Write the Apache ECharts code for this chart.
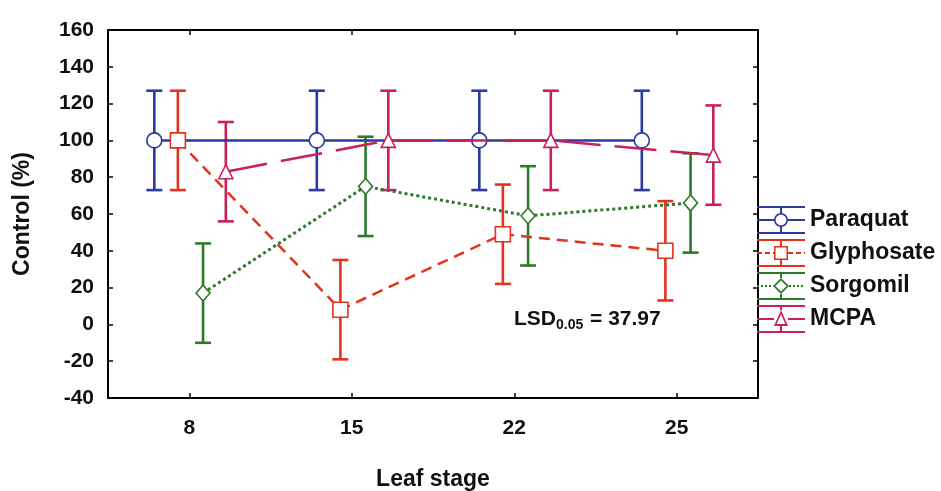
<!DOCTYPE html>
<html>
<head>
<meta charset="utf-8">
<script src="https://cdn.jsdelivr.net/npm/echarts@6/dist/echarts.min.js"></script>
<style>
html,body{margin:0;padding:0;background:#fff;}
#chart{width:941px;height:491px;}
</style>
</head>
<body>
<div id="chart"></div>
<script>
// ---- Data ----
const categories = ['8', '15', '22', '25'];
const seriesNames = ['Paraquat', 'Glyphosate', 'Sorgomil', 'MCPA'];
const paraquat = [100, 100, 100, 100];
const glyphosate = [100, 8, 49, 40];
const sorgomil = [17, 75, 59, 66];
const mcpa = [83, 100, 100, 92];
const paraquatErr = [27, 27, 27, 27];
const glyphosateErr = [27, 27, 27, 27];
const sorgomilErr = [27, 27, 27, 27];
const mcpaErr = [27, 27, 27, 27];
const yTicks = { min: -40, max: 160, interval: 20 };
const lsdLabel = { main: 'LSD', sub: '0.05', rest: ' = 37.97' };

// ---- Styling ----
const FONT = 'Liberation Sans';
const TXT = '#111';
const colors = ['#2a3aa2', '#e2331f', '#2e7a2b', '#c8215b'];
const symbols = ['circle', 'rect', 'diamond', 'triangle'];
const symbolSizes = [15, 15, [14, 16], [14, 14]];
const lineTypes = ['solid', [11, 7], [3, 3], [42, 14]];
const lineWidths = [2.5, 2.5, 3, 2.5];
const offsets = [-0.215, -0.07, 0.085, 0.225];
const values = [paraquat, glyphosate, sorgomil, mcpa];
const errors = [paraquatErr, glyphosateErr, sorgomilErr, mcpaErr];

// ---- Legend icons (error-bar style with hollow marker) ----
function rect(x0, y0, x1, y1) {
  return `M${x0},${y0}L${x1},${y0}L${x1},${y1}L${x0},${y1}Z`;
}
function poly(pts) {
  return 'M' + pts.map(p => p[0].toFixed(2) + ',' + p[1].toFixed(2)).join('L') + 'Z';
}
function ring(pts, c, k) {
  const inner = pts.map(p => [c[0] + (p[0] - c[0]) * k, c[1] + (p[1] - c[1]) * k]).reverse();
  return poly(pts) + poly(inner);
}
function segs(x0, x1, dash) {
  if (!dash) return rect(x0, 13, x1, 15);
  let s = '', x = x0;
  while (x < x1) { s += rect(x, 13, Math.min(x + dash[0], x1), 15); x += dash[0] + dash[1]; }
  return s;
}
function makeIcon(kind, dash) {
  const cx = 24, cy = 14;
  let pts, c = [cx, cy], k, top, bot, lx, rx;
  if (kind === 'circle') {
    pts = []; for (let i = 0; i < 24; i++) { const a = i / 24 * Math.PI * 2; pts.push([cx + 7 * Math.cos(a), cy + 7 * Math.sin(a)]); }
    k = 0.76; top = 7; bot = 7; lx = 7; rx = 7;
  } else if (kind === 'rect') {
    pts = [[17, 7], [31, 7], [31, 21], [17, 21]]; k = 0.78; top = 7; bot = 7; lx = 7; rx = 7;
  } else if (kind === 'diamond') {
    pts = [[24, 6], [32, 14], [24, 22], [16, 14]]; k = 0.7; top = 8; bot = 8; lx = 8; rx = 8;
  } else {
    pts = [[24, 5], [31, 21], [17, 21]]; c = [24, 16]; k = 0.62; top = 9; bot = 7; lx = 7; rx = 7;
  }
  let d = rect(0, 0, 48, 2) + rect(0, 26, 48, 28) + rect(23, 2, 25, cy - top) + rect(23, cy + bot, 25, 26);
  d += segs(0, cx - lx, dash) + segs(cx + rx, 48, dash);
  d += ring(pts, c, k);
  return 'path://' + d;
}
const legendDashes = [null, [5, 3], [2, 2], null];

// ---- Series ----
const series = [];
values.forEach((vals, s) => {
  series.push({
    type: 'custom',
    name: seriesNames[s] + ' error',
    xAxisIndex: 1,
    yAxisIndex: 0,
    z: 2,
    silent: true,
    data: vals.map((v, i) => [i + offsets[s], v, v - errors[s][i], v + errors[s][i]]),
    renderItem: function (params, api) {
      const x = api.value(0);
      const lo = api.coord([x, api.value(2)]);
      const hi = api.coord([x, api.value(3)]);
      const w = 8;
      const st = { stroke: colors[s], lineWidth: 2.6 };
      return {
        type: 'group',
        children: [
          { type: 'line', shape: { x1: lo[0], y1: lo[1], x2: hi[0], y2: hi[1] }, style: st },
          { type: 'line', shape: { x1: lo[0] - w, y1: lo[1], x2: lo[0] + w, y2: lo[1] }, style: st },
          { type: 'line', shape: { x1: hi[0] - w, y1: hi[1], x2: hi[0] + w, y2: hi[1] }, style: st }
        ]
      };
    }
  });
  series.push({
    type: 'line',
    name: seriesNames[s],
    xAxisIndex: 1,
    yAxisIndex: 0,
    z: 3 + s,
    smooth: false,
    symbol: symbols[s],
    symbolSize: symbolSizes[s],
    showAllSymbol: true,
    data: vals.map((v, i) => [i + offsets[s], v]),
    itemStyle: { color: '#ffffff', borderColor: colors[s], borderWidth: 1.6 },
    lineStyle: { color: colors[s], width: lineWidths[s], type: lineTypes[s] },
    emphasis: { disabled: true }
  });
});

const chart = echarts.init(document.getElementById('chart'), null, { renderer: 'canvas' });
const axisLine = { show: true, onZero: false, lineStyle: { color: '#000', width: 2 } };
const tick = { show: true, inside: true, length: 5, lineStyle: { color: '#000', width: 1.5 } };
chart.setOption({
  animation: false,
  backgroundColor: '#ffffff',
  grid: { left: 108, right: 183, top: 30, bottom: 93, containLabel: false, outerBoundsMode: 'none' },
  xAxis: [
    {
      type: 'category', position: 'bottom', data: categories, boundaryGap: true,
      axisLine: axisLine, axisTick: Object.assign({ alignWithLabel: true }, tick),
      axisLabel: { fontFamily: FONT, fontSize: 21, fontWeight: 'bold', color: TXT, margin: 20 },
      splitLine: { show: false },
      name: 'Leaf stage', nameLocation: 'middle', nameGap: 70,
      nameTextStyle: { fontFamily: FONT, fontSize: 23, fontWeight: 'bold', color: TXT }
    },
    { type: 'value', min: -0.5, max: 3.5, show: false, axisLine: { onZero: false } },
    {
      type: 'category', position: 'top', data: categories, boundaryGap: true,
      axisLine: axisLine, axisTick: Object.assign({ alignWithLabel: true }, tick),
      axisLabel: { show: false }, splitLine: { show: false }
    }
  ],
  yAxis: [
    {
      type: 'value', position: 'left', min: yTicks.min, max: yTicks.max, interval: yTicks.interval,
      axisLine: axisLine, axisTick: tick,
      axisLabel: { fontFamily: FONT, fontSize: 21, fontWeight: 'bold', color: TXT, margin: 14 },
      splitLine: { show: false },
      name: 'Control (%)', nameLocation: 'middle', nameGap: 74,
      nameTextStyle: { fontFamily: FONT, fontSize: 23, fontWeight: 'bold', color: TXT }
    },
    {
      type: 'value', position: 'right', min: yTicks.min, max: yTicks.max, interval: yTicks.interval,
      axisLine: axisLine, axisTick: tick, axisLabel: { show: false }, splitLine: { show: false }
    }
  ],
  legend: {
    orient: 'vertical', left: 752, top: 201,
    itemWidth: 48, itemHeight: 28, itemGap: 5,
    selectedMode: false,
    textStyle: { fontFamily: FONT, fontSize: 23, fontWeight: 'bold', color: TXT },
    data: seriesNames.map((n, s) => ({
      name: n,
      icon: makeIcon(symbols[s], legendDashes[s]),
      itemStyle: { color: colors[s], borderWidth: 0 }
    }))
  },
  graphic: [
    {
      type: 'text', left: 514, top: 309, z: 10,
      style: {
        text: `{a|${lsdLabel.main}}{b|${lsdLabel.sub}}{a|${lsdLabel.rest}}`,
        rich: {
          a: { fontFamily: FONT, fontSize: 21, fontWeight: 'bold', fill: TXT, lineHeight: 25, verticalAlign: 'middle' },
          b: { fontFamily: FONT, fontSize: 14, fontWeight: 'bold', fill: TXT, lineHeight: 14, verticalAlign: 'bottom', padding: [0, 1, 0, 0] }
        }
      }
    }
  ],
  series: series
});
</script>
</body>
</html>
